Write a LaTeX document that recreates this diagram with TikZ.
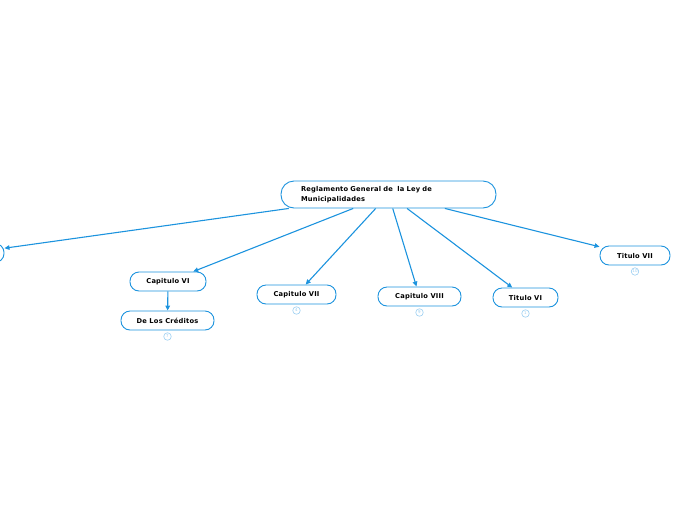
\documentclass[tikz,border=0pt]{standalone}
\usepackage{fontspec}
\newfontfamily\dvs[LetterSpace=3]{DejaVu Sans}
\usetikzlibrary{arrows.meta}
\definecolor{lineblue}{HTML}{1C93DE}
\definecolor{paleblue}{HTML}{9CCFF2}
\tikzset{
  topic/.style={draw=lineblue, line width=0.9pt, fill=white, rounded corners=9pt,
    font=\dvs\bfseries\fontsize{6.7}{10}\selectfont, inner sep=2pt, minimum height=19pt},
  link/.style={draw=lineblue, line width=1.1pt, -{Triangle[length=5pt,width=4.5pt]}},
  badge/.style={circle, draw=paleblue, line width=0.6pt, fill=white, inner sep=0pt,
    minimum size=7.5pt, text=paleblue, font=\dvs\fontsize{4}{4}\selectfont},
}
\begin{document}
\begin{tikzpicture}[x=1pt,y=-1pt]
\useasboundingbox (0,0) rectangle (696,520);
\node[topic, minimum width=215pt, minimum height=27pt, text width=175pt, align=left, rounded corners=13pt] (main) at (388.5,194.5) {Reglamento General de\ \ la Ley de\\Municipalidades};
\node[topic, minimum width=68pt] (left) at (-30,253) {};
\node[topic, minimum width=76pt] (cap6) at (168,281.5) {Capitulo VI};
\node[topic, minimum width=93pt] (cred) at (167.5,320.5) {De Los Créditos};
\node[topic, minimum width=79pt] (cap7) at (296.5,294.5) {Capitulo VII};
\node[topic, minimum width=83pt] (cap8) at (419.5,296.5) {Capitulo VIII};
\node[topic, minimum width=65pt] (tit6) at (525.5,297.5) {Titulo VI};
\node[topic, minimum width=70pt] (tit7) at (635,255.5) {Titulo VII};

\draw[link] (main) -- (left);
\draw[link] (main) -- (cap6);
\draw[link] (main) -- (cap7);
\draw[link] (main) -- (cap8);
\draw[link] (main) -- (tit6);
\draw[link] (main) -- (tit7);
\draw[link] (cap6) -- (cred);

\node[badge, anchor=north] (b7) at ([yshift=-2pt]cred.south) {7};
\node[badge, anchor=north] (b4) at ([yshift=-2pt]cap7.south) {4};
\node[badge, anchor=north] (b9) at ([yshift=-2pt]cap8.south) {9};
\node[badge, anchor=north] (b1) at ([yshift=-2pt]tit6.south) {1};
\node[badge, anchor=north] (b10) at ([yshift=-2pt]tit7.south) {10};
\end{tikzpicture}
\end{document}
